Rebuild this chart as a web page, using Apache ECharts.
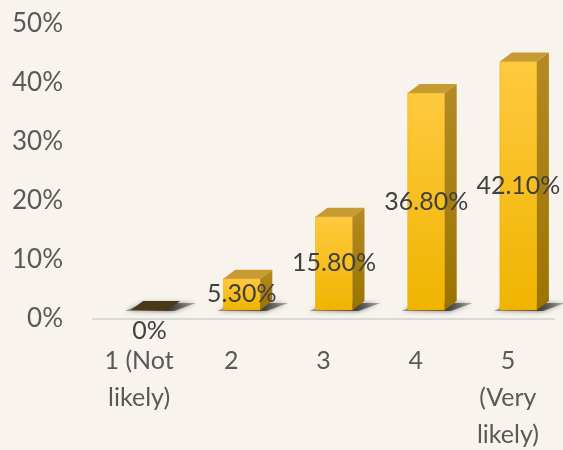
<!DOCTYPE html>
<html lang="en">
<head>
    <meta charset="UTF-8">
    <title>Likelihood</title>
    <script src="https://cdn.jsdelivr.net/npm/echarts@6/dist/echarts.min.js"></script>
    <style>
        html, body { margin: 0; padding: 0; background: #f8f4ed; }
        #main { width: 563px; height: 450px; }
    </style>
</head>
<body>
<div id="main"></div>
<script type="text/javascript">
    // data
    var categories = ['1 (Not\nlikely)', '2', '3', '4', '5\n(Very\nlikely)'];
    var values = [0, 5.3, 15.8, 36.8, 42.1];
    var valueLabels = ['0%', '5.30%', '15.80%', '36.80%', '42.10%'];

    var FONT = 'Lato, "Noto Sans", sans-serif';

    // excel-like 3d column
    function renderItem(params, api) {
        var idx = api.value(0);
        var base = api.coord([idx, 0]);
        var top = api.coord([idx, api.value(1)]);
        var dx = 12, dy = 9, w = 37;
        var fl = base[0] - 8;
        var fr = fl + w;
        var fb = base[1] - 9;
        var ft = top[1] - 9;
        var isZero = api.value(1) === 0;

        var children = [];
        // soft floor shadow
        children.push({
            type: 'polygon',
            shape: { points: [[fl - 6, fb + 1], [fr + 6, fb + 1], [fr + dx + 16, fb - dy + 2], [fl + dx, fb - dy + 2]] },
            style: {
                fill: new echarts.graphic.LinearGradient(0, 0, 1, 0, [
                    { offset: 0, color: 'rgba(60,60,60,0.45)' },
                    { offset: 0.6, color: 'rgba(45,45,45,0.85)' },
                    { offset: 1, color: 'rgba(60,60,60,0.35)' }
                ]),
                shadowBlur: 5,
                shadowColor: 'rgba(40,40,40,0.8)'
            }
        });
        if (!isZero) {
            children.push({
                type: 'rect',
                shape: { x: fl, y: ft, width: w, height: fb - ft },
                style: {
                    fill: new echarts.graphic.LinearGradient(0, 0, 0, 1, [
                        { offset: 0, color: '#ffc93f' },
                        { offset: 1, color: '#f0b400' }
                    ]),
                    stroke: '#e2a800', lineWidth: 0.5
                }
            });
            children.push({
                type: 'polygon',
                shape: { points: [[fr, ft], [fr + dx, ft - dy], [fr + dx, fb - dy], [fr, fb]] },
                style: {
                    fill: new echarts.graphic.LinearGradient(0, 0, 0, 1, [
                        { offset: 0, color: '#b58a22' },
                        { offset: 1, color: '#9a7400' }
                    ])
                }
            });
        }
        children.push({
            type: 'polygon',
            shape: { points: [[fl, ft], [fl + dx, ft - dy], [fr + dx, ft - dy], [fr, ft]] },
            style: { fill: isZero ? '#4a3a14' : '#c89a32' }
        });
        children.push({
            type: 'text',
            style: {
                text: valueLabels[idx],
                x: fl + w / 2,
                y: isZero ? base[1] + 12 : (ft + fb) / 2,
                align: 'center',
                verticalAlign: 'middle',
                fontSize: 25,
                fontFamily: FONT,
                fill: '#404040'
            }
        });
        return { type: 'group', children: children };
    }

    var myChart = echarts.init(document.getElementById('main'));
    var option = {
        backgroundColor: '#f8f4ed',
        animation: false,
        grid: { left: 93, right: 9, top: 24, bottom: 131, outerBoundsMode: 'none' },
        xAxis: {
            type: 'category',
            data: categories,
            axisLine: { lineStyle: { color: '#d9d9d9', width: 2 } },
            axisTick: { show: false },
            axisLabel: {
                margin: 23,
                fontSize: 25,
                lineHeight: 37,
                fontFamily: FONT,
                color: '#595959',
                interval: 0
            }
        },
        yAxis: {
            type: 'value',
            min: 0,
            max: 50,
            interval: 10,
            axisLine: { show: false },
            axisTick: { show: false },
            splitLine: { show: false },
            axisLabel: {
                formatter: '{value}%',
                margin: 30,
                fontSize: 26,
                fontFamily: FONT,
                color: '#595959'
            }
        },
        series: [
            {
                type: 'custom',
                renderItem: renderItem,
                clip: false,
                data: values.map(function (v, i) { return [i, v]; })
            }
        ]
    };
    option && myChart.setOption(option);
</script>
</body>
</html>
